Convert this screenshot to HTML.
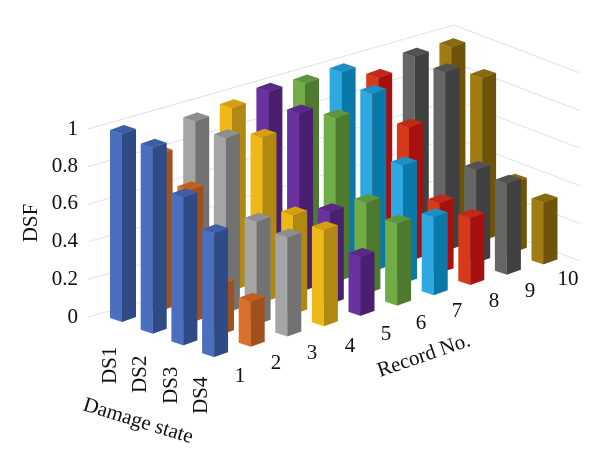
<!DOCTYPE html>
<html><head><meta charset="utf-8"><style>
html,body{margin:0;padding:0;background:#fff;}
svg{display:block;font-family:"Liberation Serif",serif;}
</style></head><body>
<svg id="s" width="600" height="459" viewBox="0 0 600 459" xmlns="http://www.w3.org/2000/svg">
<g id="grid" stroke="#e2e2e2" stroke-width="1" fill="none"></g>
<g id="bars"></g>
<g font-size="21" fill="#111">
<text x="78" y="135" text-anchor="end">1</text>
<text x="78" y="172" text-anchor="end">0.8</text>
<text x="78" y="209" text-anchor="end">0.6</text>
<text x="78" y="247" text-anchor="end">0.4</text>
<text x="78" y="285" text-anchor="end">0.2</text>
<text x="78" y="323" text-anchor="end">0</text>
<text transform="translate(37,223) rotate(-90)" text-anchor="middle">DSF</text>
<text transform="translate(116,384) rotate(-90)">DS1</text>
<text transform="translate(146,393) rotate(-90)">DS2</text>
<text transform="translate(177,404) rotate(-90)">DS3</text>
<text transform="translate(207,414) rotate(-90)">DS4</text>
<text transform="translate(82,410) rotate(17)">Damage state</text>
<text transform="translate(380,377) rotate(-19)">Record No.</text>
<text x="240" y="382" text-anchor="middle">1</text>
<text x="276" y="369" text-anchor="middle">2</text>
<text x="312" y="359" text-anchor="middle">3</text>
<text x="350" y="352" text-anchor="middle">4</text>
<text x="386" y="340" text-anchor="middle">5</text>
<text x="421" y="329" text-anchor="middle">6</text>
<text x="457" y="317" text-anchor="middle">7</text>
<text x="494" y="307" text-anchor="middle">8</text>
<text x="530" y="297" text-anchor="middle">9</text>
<text x="568" y="285" text-anchor="middle">10</text>
</g>
</svg>
<script>
var NS="http://www.w3.org/2000/svg";
var g=document.getElementById('grid');
for(var k=0;k<6;k++){
  var dy=37.6*k;
  var p=document.createElementNS(NS,'polyline');
  p.setAttribute('points','88,'+(317-dy)+' 454,'+(213-dy)+' 580,'+(261-dy));
  g.appendChild(p);
}
var cols=[
 ['#4a6fbe','#2e4b85','#3d5fa8'],
 ['#d8702a','#a0501c','#c06020'],
 ['#a5a5a5','#727272','#8e8e8e'],
 ['#efb819','#b08812','#d4a010'],
 ['#6a329f','#4b1f70','#5a2888'],
 ['#70ad47','#4e7a30','#5f953c'],
 ['#2ea8e0','#0a78a8','#1c90c4'],
 ['#d63a1a','#a81010','#c02818'],
 ['#666666','#404040','#525252'],
 ['#a07c14','#6e5408','#8a6a10']];
var H=[
 [188,186,148,124],
 [157,133,50,45],
 [180,175,103,99],
 [183,165,99,96],
 [189,179,92,59],
 [187,164,91,82],
 [188,178,118,78],
 [172,134,70,67],
 [183,179,93,91],
 [182,163,70,62]];
var list=[];
for(var i=0;i<10;i++)for(var j=0;j<4;j++){
  var cx=122+36.6*i+30.7*j, by=322-10.3*i+11.7*j;
  list.push({i:i,j:j,cx:cx,by:by,h:H[i][j]});
}
list.sort(function(a,b){return a.by-b.by;});
var bg=document.getElementById('bars');
function poly(pts,fill){
  var p=document.createElementNS(NS,'polygon');
  p.setAttribute('points',pts.map(function(q){return q[0].toFixed(1)+','+q[1].toFixed(1);}).join(' '));
  p.setAttribute('fill',fill);bg.appendChild(p);
}
list.forEach(function(b){
  var c=cols[b.i],x=b.cx,ty=b.by-b.h,by=b.by;
  poly([[x-12,ty-4],[x,ty],[x,by],[x-12,by-4]],c[0]);
  poly([[x,ty],[x+14,ty-5],[x+14,by-5],[x,by]],c[1]);
  poly([[x-12,ty-4],[x,ty],[x+14,ty-5],[x+2,ty-9]],c[2]);
});
</script>
</body></html>
